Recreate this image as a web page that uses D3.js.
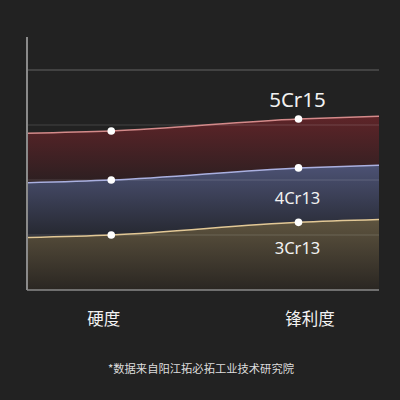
<!DOCTYPE html>
<html><head><meta charset="utf-8">
<script src="https://cdn.jsdelivr.net/npm/d3@7"></script>
<style>
html,body{margin:0;padding:0;background:#222222;}
svg{display:block;}
</style></head>
<body>
<script>
// Data
const categories = ["硬度", "锋利度"];
const xPositions = [-0.45, 0, 1, 1.43];      // edge, 硬度, 锋利度, edge
const series5Cr15 = [2.85, 2.89, 3.11, 3.16];
const series4Cr13 = [1.95, 2.00, 2.22, 2.27];
const series3Cr13 = [0.955, 1.00, 1.23, 1.28];
const seriesNames = ["5Cr15", "4Cr13", "3Cr13"];
const yTicks = [1, 2, 3, 4];
const footnote = "*数据来自阳江拓必拓工业技术研究院";

const W = 400, H = 400;
const svg = d3.select("body").append("svg").attr("width", W).attr("height", H);
svg.append("rect").attr("width", W).attr("height", H).attr("fill", "#222222");

const x = d3.scaleLinear().domain([-0.45, 1.43]).range([27, 379]);
const y = d3.scaleLinear().domain([0, 4.6]).range([290, 37]);

const seriesData = [series5Cr15, series4Cr13, series3Cr13];
const lowerData = [series4Cr13, series3Cr13, xPositions.map(() => 0)];
const styles = [
  {top: "#5e2428", bottom: "#2c1f21", line: "#d48a8a"},
  {top: "#4c5274", bottom: "#25272f", line: "#aab0e0"},
  {top: "#5e543f", bottom: "#2a2622", line: "#e2c896"}
];

const defs = svg.append("defs");
styles.forEach((s, i) => {
  const g = defs.append("linearGradient").attr("id", "g" + i)
    .attr("x1", 0).attr("y1", 0).attr("x2", 0).attr("y2", 1);
  g.append("stop").attr("offset", "0%").attr("stop-color", s.top);
  g.append("stop").attr("offset", "100%").attr("stop-color", s.bottom);
});

// top grid line (above areas)
const grid = svg.append("g");

const curve = d3.curveMonotoneX;
seriesData.forEach((vals, i) => {
  const pts = xPositions.map((xv, j) => ({x: xv, y1: vals[j], y0: lowerData[i][j]}));
  const area = d3.area().x(d => x(d.x)).y0(d => y(d.y0)).y1(d => y(d.y1)).curve(curve);
  svg.append("path").datum(pts).attr("d", area).attr("fill", `url(#g${i})`);
});

// grid lines
grid.raise();
svg.append("g").selectAll("line").data(yTicks).join("line")
  .attr("x1", x(-0.45)).attr("x2", x(1.43))
  .attr("y1", d => y(d)).attr("y2", d => y(d))
  .attr("stroke", "#ffffff").attr("stroke-opacity", d => d === 4 ? 0.2 : 0.1)
  .attr("stroke-width", 1.5);

// series lines
seriesData.forEach((vals, i) => {
  const pts = xPositions.map((xv, j) => ({x: xv, y: vals[j]}));
  const line = d3.line().x(d => x(d.x)).y(d => y(d.y)).curve(curve);
  svg.append("path").datum(pts).attr("d", line).attr("fill", "none")
    .attr("stroke", styles[i].line).attr("stroke-width", 1.5);
});

// axes
const axisG = svg.append("g");
axisG.append("line").attr("x1", x(-0.45)).attr("x2", x(-0.45))
  .attr("y1", y(4.6)).attr("y2", y(0)).attr("stroke", "#8a8a8a").attr("stroke-width", 2);
axisG.append("line").attr("x1", x(-0.45)).attr("x2", x(1.43))
  .attr("y1", y(0)).attr("y2", y(0)).attr("stroke", "#8a8a8a").attr("stroke-width", 1.5);

// dots
seriesData.forEach(vals => {
  [1, 2].forEach(j => {
    svg.append("circle").attr("cx", x(xPositions[j])).attr("cy", y(vals[j]))
      .attr("r", 3.8).attr("fill", "#ffffff");
  });
});

// series labels
const labelFont = "'Noto Sans', 'DejaVu Sans', sans-serif";
const lbl = [
  {t: seriesNames[0], v: 3.32, size: 20.5},
  {t: seriesNames[1], v: 1.56, size: 16.5},
  {t: seriesNames[2], v: 0.655, size: 16.5}
];
lbl.forEach(l => {
  svg.append("text").attr("x", x(1) - 1).attr("y", y(l.v))
    .attr("text-anchor", "middle").attr("fill", "#f2f2f2")
    .attr("font-family", labelFont).attr("font-size", l.size).text(l.t);
});

// category labels
const catOffsets = [-7.5, 11.5];
categories.forEach((c, i) => {
  svg.append("text").attr("x", x(i) + catOffsets[i]).attr("y", 318)
    .attr("text-anchor", "middle").attr("dominant-baseline", "central")
    .attr("fill", "#f2f2f2").attr("font-family", "'Noto Sans CJK SC', sans-serif")
    .attr("font-size", 16.5).text(c);
});

// footnote
svg.append("text").attr("x", 201).attr("y", 368)
  .attr("text-anchor", "middle").attr("dominant-baseline", "central")
  .attr("fill", "#dddddd").attr("font-family", "'Noto Sans CJK SC', sans-serif")
  .attr("font-size", 11.3).text(footnote);
</script>
</body></html>
